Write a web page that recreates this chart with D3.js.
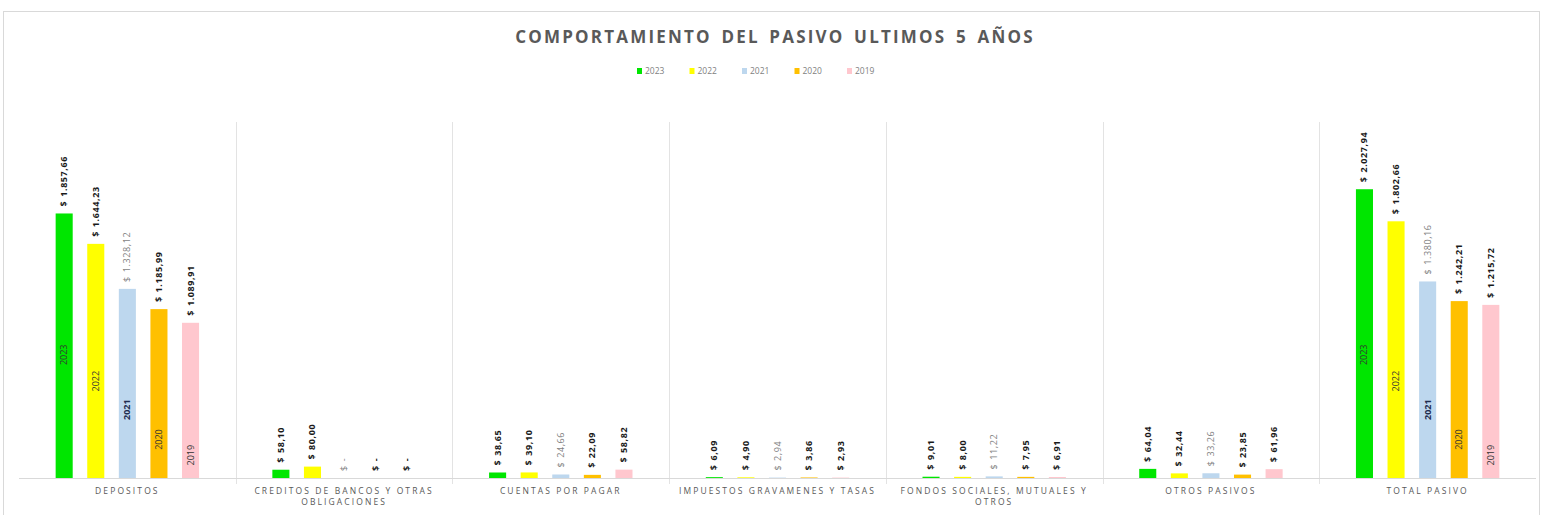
<!DOCTYPE html>
<html>
<head>
<meta charset="utf-8">
<script src="https://cdn.jsdelivr.net/npm/d3@7"></script>
<style>
  body { margin: 0; background: #fff; }
  text { font-family: "Open Sans", "DejaVu Sans", sans-serif; }
</style>
</head>
<body>
<svg id="chart" width="1542" height="515"></svg>
<script>
// categories and series
var categories = ["DEPOSITOS", "CREDITOS DE BANCOS Y OTRAS OBLIGACIONES", "CUENTAS POR PAGAR",
    "IMPUESTOS GRAVAMENES Y TASAS", "FONDOS SOCIALES, MUTUALES Y OTROS", "OTROS PASIVOS", "TOTAL PASIVO"];
var years = ["2023", "2022", "2021", "2020", "2019"];
var v2023 = [1857.66, 58.10, 38.65, 6.09, 9.01, 64.04, 2027.94];
var v2022 = [1644.23, 80.00, 39.10, 4.90, 8.00, 32.44, 1802.66];
var v2021 = [1328.12, 0, 24.66, 2.94, 11.22, 33.26, 1380.16];
var v2020 = [1185.99, 0, 22.09, 3.86, 7.95, 23.85, 1242.21];
var v2019 = [1089.91, 0, 58.82, 2.93, 6.91, 61.96, 1215.72];
var yDomainMax = 2500;

var seriesValues = [v2023, v2022, v2021, v2020, v2019];
var colors = ["#00e600", "#ffff00", "#bdd7ee", "#ffc000", "#ffc7ce"];
// the year labels inside the big bars sit at a fixed height per series
var yearLabelAt = [865, 680, 480, 270, 160];

chart();

function chart() {
    var svg = d3.select("#chart");
    var margin = {top: 122, left: 19, right: 6, bottom: 37};
    var width = +svg.attr("width"), height = +svg.attr("height");
    var baseY = height - margin.bottom;

    var locale = d3.formatLocale({decimal: ",", thousands: ".", grouping: [3], currency: ["$ ", ""]});
    var fmt = locale.format(",.2f");
    var money = v => v === 0 ? "$ -" : "$ " + fmt(v);

    // outer frame
    svg.append("rect").attr("x", 3.5).attr("y", 11.5).attr("width", width - 6).attr("height", height)
        .attr("fill", "none").attr("stroke", "#d9d9d9");

    // title
    svg.append("text").attr("x", 775).attr("y", 43).attr("text-anchor", "middle")
        .style("font-size", "17px").style("font-weight", "bold").style("letter-spacing", "2.2px")
        .style("word-spacing", "3px")
        .attr("fill", "#595959").text("COMPORTAMIENTO DEL PASIVO ULTIMOS 5 AÑOS");

    // legend
    var legend = svg.append("g").attr("transform", "translate(637,71)");
    var li = legend.selectAll("g").data(years).enter().append("g")
        .attr("transform", (d, i) => `translate(${i * 52.5},0)`);
    li.append("rect").attr("x", 0).attr("y", -3).attr("width", 5).attr("height", 6)
        .attr("fill", (d, i) => colors[i]);
    li.append("text").attr("x", 8).attr("y", 3).style("font-size", "8.5px").attr("fill", "#7f7f7f").text(d => d);

    // scales
    var x = d3.scaleBand().domain(categories).range([margin.left, width - margin.right]);
    var xInner = d3.scaleBand().domain(years).range([0, x.bandwidth()])
        .paddingInner(0.46).paddingOuter(1.16);
    var y = d3.scaleLinear().domain([0, yDomainMax]).range([baseY, margin.top]);

    // separators between categories
    svg.append("g").selectAll("line").data(categories.slice(1)).enter().append("line")
        .attr("x1", d => Math.round(x(d)) + 0.5).attr("x2", d => Math.round(x(d)) + 0.5)
        .attr("y1", margin.top).attr("y2", baseY + 6)
        .attr("stroke", "#e3e3e3");

    var rows = [];
    categories.forEach((c, ci) => {
        years.forEach((yr, si) => {
            rows.push({cat: c, year: yr, si: si, value: seriesValues[si][ci]});
        });
    });

    var bars = svg.append("g");
    bars.selectAll("rect").data(rows).enter().append("rect")
        .attr("x", d => x(d.cat) + xInner(d.year))
        .attr("width", xInner.bandwidth())
        .attr("y", d => y(d.value))
        .attr("height", d => baseY - y(d.value))
        .attr("fill", d => colors[d.si]);

    // baseline
    svg.append("line").attr("x1", margin.left).attr("x2", width - margin.right)
        .attr("y1", baseY + 0.5).attr("y2", baseY + 0.5).attr("stroke", "#d9d9d9");

    // value labels above bars
    svg.append("g").selectAll("text").data(rows).enter().append("text")
        .attr("transform", d => `translate(${x(d.cat) + xInner(d.year) + xInner.bandwidth() / 2 + 3},${y(d.value) - 7}) rotate(-90)`)
        .attr("text-anchor", "start")
        .style("font-size", "9px")
        .style("letter-spacing", "0.6px")
        .style("word-spacing", "1px")
        .style("font-weight", d => d.si === 2 ? "normal" : "bold")
        .attr("fill", d => d.si === 2 ? "#7f7f7f" : "#1a1a1a")
        .text(d => money(d.value));

    // year labels inside the big bars
    var big = rows.filter(d => d.value > 500);
    svg.append("g").selectAll("text").data(big).enter().append("text")
        .attr("transform", d => `translate(${x(d.cat) + xInner(d.year) + xInner.bandwidth() / 2 + 3},${y(yearLabelAt[d.si])}) rotate(-90)`)
        .attr("text-anchor", "middle")
        .style("font-size", "9px")
        .style("font-weight", d => d.si === 2 ? "bold" : "normal")
        .attr("fill", d => d.si === 2 ? "#1f2d50" : "#333")
        .text(d => d.year);

    // category labels, wrapped to the band
    var catG = svg.append("g");
    categories.forEach(c => {
        var t = catG.append("text").attr("x", x(c) + x.bandwidth() / 2).attr("y", baseY + 16)
            .attr("text-anchor", "middle").style("font-size", "8.5px").style("letter-spacing", "2.1px")
            .attr("fill", "#595959");
        var words = c.split(" "), line = [];
        var ts = t.append("tspan").attr("x", x(c) + x.bandwidth() / 2).attr("dy", 0);
        words.forEach(w => {
            line.push(w);
            ts.text(line.join(" "));
            if (ts.node().getComputedTextLength() > 214 && line.length > 1) {
                line.pop();
                ts.text(line.join(" "));
                line = [w];
                ts = t.append("tspan").attr("x", x(c) + x.bandwidth() / 2).attr("dy", "1.25em").text(w);
            }
        });
    });
}
</script>
</body>
</html>
